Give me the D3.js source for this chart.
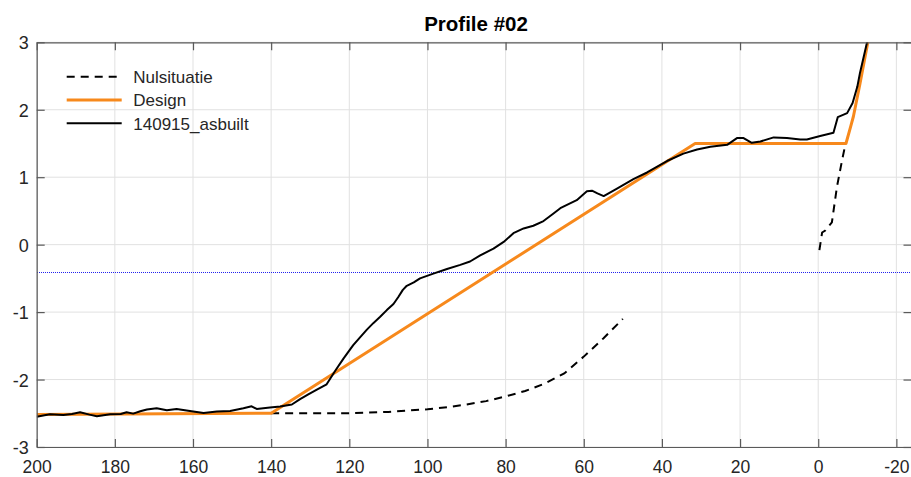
<!DOCTYPE html>
<html>
<head>
<meta charset="utf-8">
<script src="https://cdn.jsdelivr.net/npm/d3@7"></script>
<style>
  html, body { margin: 0; padding: 0; background: #fff; }
  svg { display: block; font-family: "Liberation Sans", Arial, sans-serif; }
</style>
</head>
<body>
<svg id="chart" width="911" height="477"></svg>
<script>
// Profile #02 — chainage (m, decreasing to the right) vs. level (m)
const chartTitle = "Profile #02";
const xTicks = [200, 180, 160, 140, 120, 100, 80, 60, 40, 20, 0, -20];
const yTicks = [-3, -2, -1, 0, 1, 2, 3];
const referenceLevel = -0.4;

// Original situation before works (two surveyed stretches)
const nulsituatieLeft = [
  [140, -2.5], [130, -2.5], [120, -2.5], [110, -2.48], [100, -2.44], [95, -2.41],
  [90, -2.37], [85, -2.32], [80, -2.25], [75, -2.17], [70, -2.06], [65, -1.91],
  [60, -1.66], [55, -1.39], [50, -1.1]
];
const nulsituatieRight = [
  [-0.3, -0.08], [-1, 0.18], [-1.8, 0.21], [-3.5, 0.33], [-4.8, 0.86], [-6.1, 1.25], [-7, 1.5]
];

// Design profile
const design = [
  [200, -2.52], [140, -2.5], [31.5, 1.5], [-7.1, 1.5], [-8.3, 1.75], [-9, 1.9],
  [-10.7, 2.39], [-12.7, 3.0], [-13.5, 3.3]
];

// As-built survey 15-09-2014
const asbuilt = [
  [200, -2.55], [198, -2.53], [196.6, -2.515], [193.2, -2.525], [191, -2.51], [188.9, -2.485],
  [186.5, -2.52], [184.6, -2.545], [181.2, -2.515], [178.5, -2.51], [177, -2.485], [175.3, -2.505],
  [173.5, -2.47], [171.8, -2.445], [169.3, -2.426], [166.7, -2.455], [164.2, -2.436], [160.8, -2.466],
  [157.3, -2.496], [153.9, -2.475], [150.5, -2.466], [147.1, -2.426], [145, -2.396], [143.7, -2.436],
  [140.3, -2.416], [137.7, -2.4], [134.7, -2.37], [132.6, -2.29], [130.5, -2.22], [128.3, -2.15],
  [125.8, -2.07], [123.6, -1.87], [121.5, -1.69], [119, -1.49], [117.2, -1.37], [115.5, -1.26],
  [113.8, -1.16], [112.1, -1.07], [110.4, -0.97], [108.7, -0.88], [107.5, -0.78], [106.3, -0.67],
  [105.3, -0.61], [103.5, -0.56], [101.9, -0.5], [98.5, -0.43], [95, -0.36], [91.6, -0.3],
  [89.1, -0.25], [86.5, -0.16], [84.5, -0.1], [83.1, -0.06], [80.5, 0.04], [78, 0.17],
  [75.4, 0.24], [72.9, 0.28], [70.3, 0.35], [68, 0.45], [66, 0.54], [64.3, 0.59],
  [61.8, 0.66], [59.2, 0.79], [57.9, 0.8], [56.5, 0.76], [54.9, 0.72], [51.5, 0.83],
  [47.3, 0.97], [43.8, 1.07], [38.7, 1.24], [34.5, 1.35], [31, 1.41], [27.6, 1.45],
  [23.3, 1.48], [20.8, 1.58], [19.1, 1.58], [17, 1.51], [14.8, 1.53], [11.4, 1.59],
  [8, 1.58], [4.6, 1.56], [2.9, 1.56], [-0.5, 1.61], [-3.9, 1.66], [-5, 1.89],
  [-7.4, 1.95], [-8.8, 2.1], [-10, 2.34], [-10.7, 2.55], [-12.5, 3.0], [-13.2, 3.2]
];

const legendItems = [
  { label: "Nulsituatie", color: "#000", width: 2, dash: "8,6" },
  { label: "Design", color: "#f7891c", width: 3, dash: null },
  { label: "140915_asbuilt", color: "#000", width: 2, dash: null }
];

const svg = d3.select("#chart");
const plotLeft = 36.7, plotRight = 912, plotTop = 42.3, plotBottom = 447;

const x = d3.scaleLinear().domain([200, -24]).range([plotLeft, plotRight]);
const y = d3.scaleLinear().domain([-3, 3]).range([plotBottom, plotTop]);
const plainNumber = d => String(d);

svg.append("defs").append("clipPath").attr("id", "plotClip")
  .append("rect").attr("x", plotLeft).attr("y", plotTop)
  .attr("width", plotRight - plotLeft).attr("height", plotBottom - plotTop);

// grid
const grid = svg.append("g");
grid.selectAll(".gx").data(xTicks).join("line")
  .attr("x1", d => x(d)).attr("x2", d => x(d))
  .attr("y1", plotTop).attr("y2", plotBottom)
  .attr("stroke", "#e1e1e1").attr("stroke-width", 1);
grid.selectAll(".gy").data(yTicks).join("line")
  .attr("x1", plotLeft).attr("x2", plotRight)
  .attr("y1", d => y(d)).attr("y2", d => y(d))
  .attr("stroke", "#e1e1e1").attr("stroke-width", 1);

const plot = svg.append("g").attr("clip-path", "url(#plotClip)");

// reference water level (dotted, snapped to the pixel grid)
const refY = Math.round(y(referenceLevel)) + 0.5;
plot.append("line")
  .attr("x1", plotLeft).attr("x2", plotRight)
  .attr("y1", refY).attr("y2", refY)
  .attr("stroke", "#2222ee").attr("stroke-width", 1).attr("stroke-dasharray", "1,1")
  .attr("shape-rendering", "crispEdges");

const line = d3.line().x(d => x(d[0])).y(d => y(d[1]));

[nulsituatieLeft, nulsituatieRight].forEach(seg => {
  plot.append("path").datum(seg).attr("d", line)
    .attr("fill", "none").attr("stroke", legendItems[0].color)
    .attr("stroke-width", legendItems[0].width).attr("stroke-dasharray", legendItems[0].dash);
});
plot.append("path").datum(design).attr("d", line)
  .attr("fill", "none").attr("stroke", legendItems[1].color)
  .attr("stroke-width", legendItems[1].width).attr("stroke-linejoin", "round");
plot.append("path").datum(asbuilt).attr("d", line)
  .attr("fill", "none").attr("stroke", legendItems[2].color)
  .attr("stroke-width", legendItems[2].width).attr("stroke-linejoin", "round");

// axes (box with inward ticks)
const axisColor = "#5a5a5a";
const textColor = "#262626";
const bottomAxis = svg.append("g").attr("transform", `translate(0,${plotBottom})`)
  .call(d3.axisBottom(x).tickValues(xTicks).tickFormat(plainNumber).tickSizeInner(-8).tickSizeOuter(0));
const topAxis = svg.append("g").attr("transform", `translate(0,${plotTop})`)
  .call(d3.axisTop(x).tickValues(xTicks).tickSizeInner(-8).tickSizeOuter(0).tickFormat(""));
const leftAxis = svg.append("g").attr("transform", `translate(${plotLeft},0)`)
  .call(d3.axisLeft(y).tickValues(yTicks).tickFormat(plainNumber).tickSizeInner(-8).tickSizeOuter(0));
const rightAxis = svg.append("g").attr("transform", `translate(${plotRight - 0.5},0)`)
  .call(d3.axisRight(y).tickValues(yTicks).tickSizeInner(-8).tickSizeOuter(0).tickFormat(""));

[bottomAxis, topAxis, leftAxis, rightAxis].forEach(a => {
  a.selectAll("path, line").attr("stroke", axisColor).attr("stroke-width", 1.2);
  a.selectAll("text").attr("fill", textColor).attr("font-size", 18)
    .attr("font-family", "'Liberation Sans', Arial, sans-serif");
});
bottomAxis.selectAll("text").attr("font-size", 17.5).attr("y", 26).attr("dy", null);
leftAxis.selectAll("text").attr("x", -8).attr("dy", "0.36em");

// title
svg.append("text")
  .attr("x", 476).attr("y", 31)
  .attr("text-anchor", "middle")
  .attr("font-size", 20.5).attr("font-weight", "bold").attr("fill", "#000")
  .text(chartTitle);

// legend
const legend = svg.append("g");
legendItems.forEach((item, i) => {
  const ly = 76.7 + i * 23.3;
  legend.append("line")
    .attr("x1", 66.7).attr("x2", 121.7).attr("y1", ly).attr("y2", ly)
    .attr("stroke", item.color).attr("stroke-width", item.width)
    .attr("stroke-dasharray", item.dash);
  legend.append("text")
    .attr("x", 133.3).attr("y", ly + 6.3)
    .attr("font-size", 17).attr("fill", textColor)
    .text(item.label);
});
</script>
</body>
</html>
